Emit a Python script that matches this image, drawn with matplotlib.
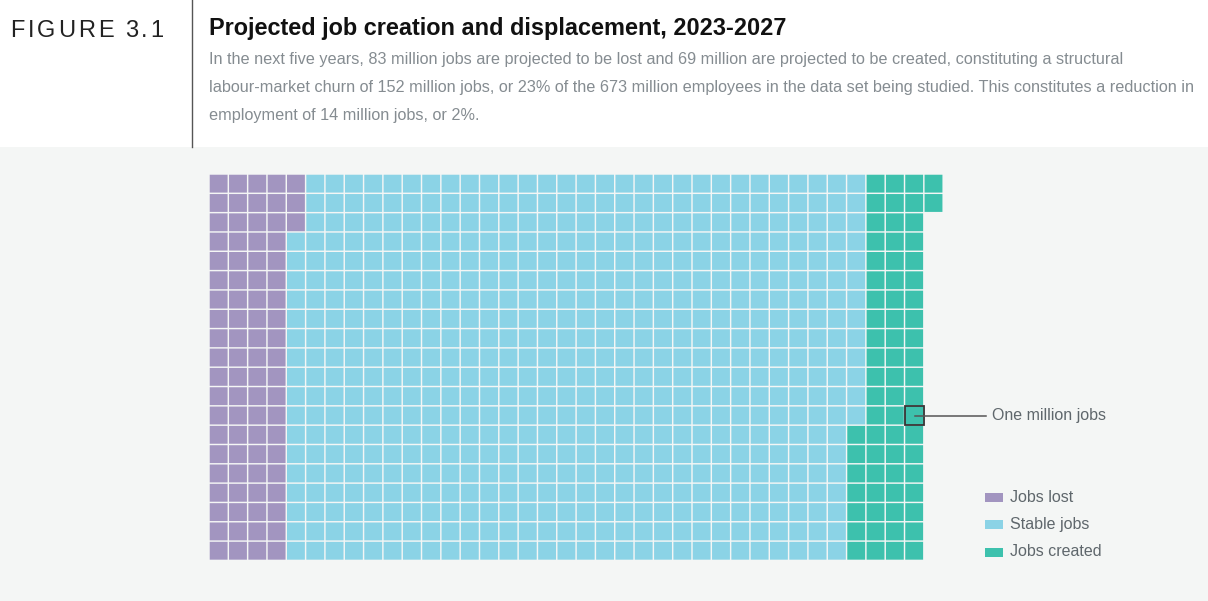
import matplotlib
matplotlib.use("Agg")
import matplotlib.pyplot as plt
from matplotlib.patches import Rectangle

# ---- data ----
categories = ["Jobs lost", "Stable jobs", "Jobs created"]
values = [83, 590, 69]          # million jobs (one square = one million)
colors = ["#a295c0", "#8bd3e6", "#3dc1ad"]
n_rows = 20
highlight_index = 732           # square picked for the "One million jobs" callout
title = "Projected job creation and displacement, 2023-2027"
subtitle_lines = [
    "In the next five years, 83 million jobs are projected to be lost and 69 million are projected to be created, constituting a structural",
    "labour-market churn of 152 million jobs, or 23% of the 673 million employees in the data set being studied. This constitutes a reduction in",
    "employment of 14 million jobs, or 2%.",
]
fig_label = "FIGURE 3.1"
callout = "One million jobs"

W, H = 1208, 601
fig = plt.figure(figsize=(W / 100, H / 100), dpi=100)
fig.patch.set_facecolor("white")

# background panel for chart region
bg = fig.add_axes([0, 0, 1, 1 - 147 / H])
bg.set_facecolor("#f4f6f5")
bg.set_xticks([]); bg.set_yticks([])
for s in bg.spines.values():
    s.set_visible(False)

# header separator line
fig.add_artist(plt.Line2D([192 / W, 192 / W], [1 - 147 / H, 1.0], color="#555555", lw=1.0))

# header label with letter spacing
renderer = fig.canvas.get_renderer()
xpos = 10.0
tracking = 3.0
for ch in fig_label:
    t = fig.text(xpos / W, 1 - 37 / H, ch, fontsize=17, family="Liberation Sans",
                 color="#222222", va="baseline", ha="left")
    if ch == " ":
        w = 5.0
    else:
        w = t.get_window_extent(renderer=renderer).width
    xpos += w + tracking

fig.text(209 / W, 1 - 35 / H, title, fontsize=16.9, fontweight="bold",
         family="Liberation Sans", color="#111111", va="baseline", ha="left")
for i, line in enumerate(subtitle_lines):
    fig.text(209 / W, 1 - (64 + 28 * i) / H, line, fontsize=11.7,
             family="Liberation Sans", color="#858c91", va="baseline", ha="left")

# waffle axes
total = sum(values)
n_cols = -(-total // n_rows)
x0, y0, cell = 209, 174, 19.32
ax = fig.add_axes([x0 / W, 1 - (y0 + n_rows * cell) / H, n_cols * cell / W, n_rows * cell / H])
ax.set_xlim(0, n_cols)
ax.set_ylim(n_rows, 0)
ax.axis("off")

gap = 0.075
idx = 0
for val, col in zip(values, colors):
    for k in range(val):
        c, r = divmod(idx, n_rows)
        ax.add_patch(Rectangle((c + gap / 2, r + gap / 2), 1 - gap, 1 - gap,
                               facecolor=col, edgecolor="none", snap=False))
        idx += 1

hc, hr = divmod(highlight_index, n_rows)
ax.add_patch(Rectangle((hc, hr), 1, 1, facecolor="none", edgecolor="#333333", lw=1.3, zorder=5))

# callout line and label
cx = (x0 + (hc + 0.55) * cell) / W
cy = 1 - (y0 + (hr + 0.5) * cell) / H
fig.add_artist(plt.Line2D([cx, 986 / W], [cy, cy], color="#555555", lw=1.1, zorder=6))
fig.text(992 / W, cy, callout, fontsize=11.5, family="Liberation Sans",
         color="#5f676c", va="center", ha="left")

# legend
for i, (lab, col) in enumerate(zip(categories, colors)):
    yc = 497 + 27.5 * i
    fig.add_artist(Rectangle((985 / W, 1 - (yc + 4.5) / H), 18 / W, 9 / H,
                             facecolor=col, edgecolor="none", transform=fig.transFigure))
    fig.text(1010 / W, 1 - yc / H, lab, fontsize=11.5, family="Liberation Sans",
             color="#5f676c", va="center", ha="left")

fig.savefig("out.png", dpi=100, facecolor=fig.get_facecolor())
